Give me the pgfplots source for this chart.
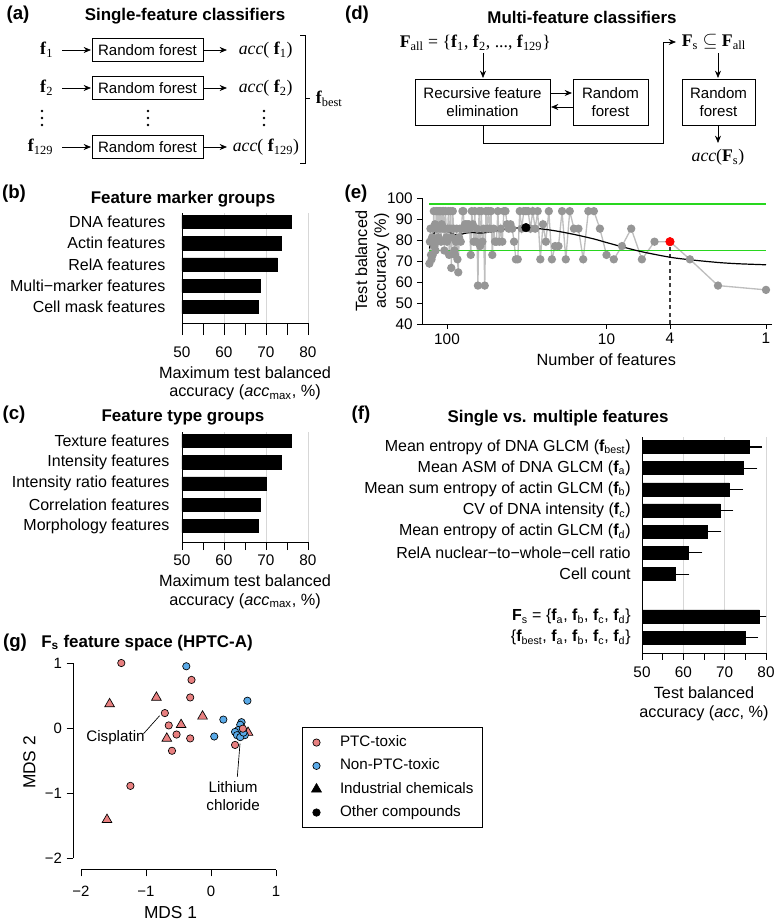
\documentclass[border=0pt]{standalone}
\usepackage{pgfplots}
\pgfplotsset{compat=1.18}
\usepackage{pgfplotstable}
\usepackage{fontspec}
\setmainfont{Liberation Sans}
\newfontfamily\serif{Liberation Serif}
\usetikzlibrary{arrows.meta}

\definecolor{ptcred}{RGB}{232,128,128}
\definecolor{ptcblue}{RGB}{90,170,232}
\definecolor{gridgray}{RGB}{215,215,215}
\definecolor{ptgray}{RGB}{150,150,150}
\definecolor{lngray}{RGB}{190,190,190}
\definecolor{lgreen}{RGB}{40,215,30}

\newcommand\ftick{\fontsize{11.5}{13.8}\selectfont}
\newcommand\fcat{\fontsize{12}{14.4}\selectfont}
\newcommand\flab{\fontsize{12.2}{14}\selectfont}
\newcommand\ftitle{\fontsize{12.7}{15}\selectfont\bfseries}
\newcommand\fpanel{\fontsize{14}{16}\selectfont\bfseries}
\newcommand\fdiag{\fontsize{11.3}{13.7}\selectfont}
\newcommand\fmath{\fontsize{13.3}{15}\selectfont\serif}
\newcommand\bff{\textbf{f}}

\pgfplotsset{
  /pgf/number format/assume math mode=true,
  barax/.style={scale only axis, anchor=south west, xmin=50, xmax=80,
    axis x line*=bottom, axis y line*=left, axis line style={line width=0.6pt,-},
    xtick={50,60,70,80}, minor xtick={55,65,75}, tick align=outside,
    major tick length=9pt, minor tick length=9pt,
    tick style={line width=0.6pt, black}, ytick style={draw=none},
    xmajorgrids, grid style={gridgray, line width=0.7pt},
    xbar, bar width=0.62,
    xticklabel style={font=\ftick, yshift=-5pt},
    yticklabel style={font=\fcat},
    label style={font=\flab}, xlabel style={align=center}}
}

\pgfplotstableread{
n acc
129 68.75
128 79.2
127 85.4
126 72.9
125 70.8
124 81.25
123 72.9
122 85.4
121 93.75
120 77.1
119 87.5
118 75
117 93.75
116 85.4
115 79.2
114 93.75
113 81.25
112 93.75
111 85.4
110 93.75
109 79.2
108 87.5
107 93.75
106 85.4
105 93.75
104 75
103 85.4
102 93.75
101 81.25
100 79.2
99 85.4
98 93.75
97 72.9
96 85.4
95 93.75
94 66.7
93 81.25
92 93.75
91 85.4
90 75
89 72.9
88 79.2
87 85.4
86 70.8
85 64.6
84 81.25
83 85.4
82 79.2
81 85.4
80 93.75
79 93.75
78 85.4
77 87.5
76 85.4
75 87.5
74 85.4
73 87.5
72 85.4
71 72.9
70 93.75
69 87.5
68 79.2
67 93.75
66 79.2
65 85.4
64 58.3
63 93.75
62 77.1
61 93.75
60 79.2
59 85.4
58 58.3
57 93.75
56 85.4
55 93.75
54 85.4
53 93.75
52 72.9
51 85.4
50 79.2
49 79.2
48 93.75
47 79.2
46 85.4
45 79.2
44 93.75
43 93.75
42 87.5
41 85.4
40 87.5
39 85.4
38 79.2
37 70.8
36 70.8
35 93.75
34 85.4
33 93.75
32 93.75
31 93.75
30 85.4
29 93.75
28 85.4
27 93.75
26 70.8
25 87.5
24 79.2
23 93.75
22 70.8
21 77.1
20 77.1
19 93.75
18 70.8
17 93.75
16 85.4
15 85.4
14 70.8
13 93.75
12 93.75
11 85.4
10 72.9
9 70.8
8 77.1
7 85.4
6 70.8
5 79.2
4 79.2
3 70.8
2 58.3
1 56.25
}\datae

\pgfplotstableread{
n acc
129 76
124 80.5
118 84.8
111 86.3
104 85.6
97 83.8
90 82.6
84 82.5
77 83.2
70 83.6
62 83.3
55 83.7
48 84.5
40 85.4
32 85.9
25 85.2
20 84.1
15.4 82.4
12 80.5
10 78.8
8 76.8
6 74.4
4 71.8
3 70.6
2 69.3
1.5 68.7
1 68.2
}\fite

\pgfplotstableread{
pos val err
10 76.0 1.8
9 74.4 2.2
8 71.1 2.1
7 68.9 1.9
6 65.7 2.2
5 61.1 2.2
4 58.0 2.2
2 78.4 1.7
1 75.0 1.8
}\dataf

\begin{document}
\begin{tikzpicture}
\useasboundingbox (0,0) rectangle (582.75pt,-690.75pt);
\begin{scope}[x=0.75pt,y=-0.75pt, >={Stealth[length=5.5pt,width=4.5pt]}, line width=0.6pt]
% ---------- (a)
\node[font=\fpanel] at (18,15) {(a)};
\node[font=\ftitle] at (185,16) {Single-feature classifiers};
\foreach \yy/\lab in {50/1, 88/2, 147/129} {
  \node[font=\fmath, anchor=east] at (58,\yy) {\bff\textsubscript{\lab}};
  \draw[->] (62,\yy) -- (91,\yy);
  \draw (92,{\yy-11.5}) rectangle (203,{\yy+11.5});
  \node[font=\fdiag] at (147.5,\yy) {Random forest};
  \draw[->] (204,\yy) -- (227,\yy);
}
\node[font=\fmath, anchor=west] at (234,50) {\textit{acc}( \bff\textsubscript{1})};
\node[font=\fmath, anchor=west] at (234,88) {\textit{acc}( \bff\textsubscript{2})};
\node[font=\fmath, anchor=west] at (228,147) {\textit{acc}( \bff\textsubscript{129})};
\foreach \xx in {42,148,264} {
  \foreach \dy in {111,118,125} { \fill (\xx,\dy) circle[radius=1.3]; }
}
\draw (300,35) -- (305,35) -- (305,163) -- (300,163);
\draw (305,98) -- (310,98);
\node[font=\fmath, anchor=west] at (311,99) {\bff\textsubscript{best}};
% ---------- (d)
\node[font=\fpanel] at (357,15) {(d)};
\node[font=\ftitle] at (582,17) {Multi-feature classifiers};
\node[font=\fmath, anchor=west] at (395,43) {\textbf{F}\textsubscript{all} = \{\bff\textsubscript{1}, \bff\textsubscript{2}, ..., \bff\textsubscript{129}\}};
\draw[->] (483,53) -- (483,78);
\draw (415,79) rectangle (550,125);
\node[font=\fdiag, align=center] at (482.5,102) {Recursive feature\\elimination};
\draw (573,79) rectangle (648,125);
\node[font=\fdiag, align=center] at (610.5,102) {Random\\forest};
\draw[->] (550,93) -- (572,93);
\draw[->] (573,107) -- (551,107);
\draw[->] (483,125) -- (483,143) -- (663,143) -- (663,42) -- (676,42);
\node[font=\fmath, anchor=west] at (677,42) {\textbf{F}\textsubscript{s} $\subseteq$ \textbf{F}\textsubscript{all}};
\draw[->] (718,53) -- (718,78);
\draw (682,79) rectangle (755,125);
\node[font=\fdiag, align=center] at (718.5,102) {Random\\forest};
\draw[->] (718,125) -- (718,143);
\node[font=\fmath] at (718,157) {\textit{acc}(\textbf{F}\textsubscript{s})};
% ---------- panel labels and titles
\node[font=\fpanel] at (14,194) {(b)};
\node[font=\ftitle] at (183,199) {Feature marker groups};
\node[font=\fpanel] at (14,415) {(c)};
\node[font=\ftitle] at (183,417) {Feature type groups};
\node[font=\fpanel] at (356,194) {(e)};
\node[font=\fpanel] at (361,415) {(f)};
\node[font=\ftitle] at (558,418) {Single vs. multiple features};
\node[font=\fpanel] at (15,643) {(g)};
\node[font=\ftitle] at (147,643) {F\textsubscript{s} feature space (HPTC-A)};
\end{scope}

% ---------- (b)
\begin{axis}[barax, at={(136.5pt,-242.25pt)}, width=94.5pt, height=82.5pt,
  ymin=0.247, ymax=5.42, ytick={1,2,3,4,5},
  yticklabels={Cell mask features, Multi−marker features, RelA features, Actin features, DNA features},
  xlabel={Maximum test balanced\\accuracy (\textit{acc}\textsubscript{max}, \%)}]
\addplot[fill=black, draw=black] coordinates {(68.2,1) (68.6,2) (72.7,3) (73.7,4) (76,5)};
\end{axis}

% ---------- (c)
\begin{axis}[barax, at={(136.5pt,-406.5pt)}, width=94.5pt, height=82.5pt,
  major tick length=6pt, minor tick length=6pt, xticklabel style={yshift=5pt},
  ymin=0.247, ymax=5.42, ytick={1,2,3,4,5},
  yticklabels={Morphology features, Correlation features, Intensity ratio features, Intensity features, Texture features},
  xlabel={Maximum test balanced\\accuracy (\textit{acc}\textsubscript{max}, \%)}]
\addplot[fill=black, draw=black] coordinates {(68.2,1) (68.6,2) (70,3) (73.7,4) (76,5)};
\end{axis}

% ---------- (e)
\begin{axis}[scale only axis, anchor=south west, at={(316.5pt,-243pt)}, width=262.5pt, height=94.5pt,
  xmode=log, x dir=reverse, xmin=0.917, xmax=143.5, ymin=40, ymax=100,
  axis x line*=bottom, axis y line*=left, axis line style={line width=0.6pt,-},
  xtick={1,4,10,100}, xticklabels={1,4,10,100}, minor x tick num=0,
  ytick={40,50,60,70,80,90,100},
  tick align=outside, major tick length=3.5pt, tick style={line width=0.6pt, black},
  tick label style={font=\ftick}, label style={font=\flab},
  xlabel={Number of features}, xlabel style={xshift=7pt},
  ylabel={Test balanced\\accuracy (\%)}, ylabel style={align=center, yshift=-8.5pt}]
\addplot[lngray, line width=1pt, mark=*, mark size=2.6pt, mark options={fill=ptgray, draw=ptgray}] table[x=n, y=acc] {\datae};
\addplot[lgreen, line width=1.1pt] coordinates {(129,97.2) (1,97.2)};
\addplot[lgreen, line width=1.1pt] coordinates {(129,75) (1,75)};
\addplot[black!75, line width=0.9pt, dash pattern=on 3pt off 2.5pt] coordinates {(4,40) (4,79.2)};
\addplot[black, line width=0.9pt, smooth] table[x=n, y=acc] {\fite};
\addplot[only marks, mark=*, mark size=3.2pt, black] coordinates {(32,85.9)};
\addplot[only marks, mark=*, mark size=3.2pt, red, mark options={fill=red, draw=red}] coordinates {(4,79.2)};
\end{axis}

% ---------- (f)
\begin{axis}[barax, at={(481.5pt,-489.75pt)}, width=93pt, height=162pt,
  major tick length=5pt, minor tick length=5pt, xticklabel style={yshift=3pt},
  ymin=0.28, ymax=10.47, ytick={1,2,4,5,6,7,8,9,10},
  yticklabels={{\{\bff\textsubscript{best}, \bff\textsubscript{a}, \bff\textsubscript{b}, \bff\textsubscript{c}, \bff\textsubscript{d}\}},
    {\textbf{F}\textsubscript{s} = \{\bff\textsubscript{a}, \bff\textsubscript{b}, \bff\textsubscript{c}, \bff\textsubscript{d}\}},
    {Cell count}, {RelA nuclear−to−whole−cell ratio},
    {Mean entropy of actin GLCM (\bff\textsubscript{d})},
    {CV of DNA intensity (\bff\textsubscript{c})},
    {Mean sum entropy of actin GLCM (\bff\textsubscript{b})},
    {Mean ASM of DNA GLCM (\bff\textsubscript{a})},
    {Mean entropy of DNA GLCM (\bff\textsubscript{best})}},
  xlabel={Test balanced\\accuracy (\textit{acc}, \%)}]
\addplot[fill=black, draw=black, error bars/.cd, x dir=plus, x explicit,
  error bar style={line width=0.8pt, black}, error mark options={line width=0.8pt, black, mark size=4pt}]
  table[x=val, y=pos, x error=err] {\dataf};
\end{axis}

% ---------- (g)
\begin{axis}[scale only axis, anchor=south west, at={(54.9pt,-652.3pt)}, width=157.95pt, height=160.9pt,
  xmin=-2.12, xmax=1.12, ymin=-2.18, ymax=1.12, clip=false,
  axis line style={draw=none}, tick pos=left, tick align=outside, major tick length=5pt,
  tick style={line width=0.6pt, black},
  xtick={-2,-1,0,1}, xticklabels={−2,−1,0,1}, ytick={-2,-1,0,1}, yticklabels={−2,−1,0,1},
  tick label style={font=\fontsize{11.2}{13}\selectfont},
  xticklabel style={yshift=-4pt},
  label style={font=\fontsize{13}{15}\selectfont},
  xlabel={MDS 1}, ylabel={MDS 2}, xlabel style={xshift=-6pt},
  legend style={at={(1.086,0.665)}, anchor=north west, draw=black, line width=0.6pt,
    font=\fontsize{11.4}{13.7}\selectfont, inner xsep=7pt, inner ysep=5.8pt, row sep=6.5pt,
    nodes={inner sep=0pt, text height=8.5pt, text depth=2.5pt},
    /tikz/every odd column/.append style={column sep=14pt}},
  legend cell align=left,
  legend image code/.code={\draw[#1] plot coordinates {(0pt,0pt)};}]
\draw[line width=0.6pt] (axis cs:-2,-2.18) -- (axis cs:1,-2.18);
\draw[line width=0.6pt] (axis cs:-2.12,-2) -- (axis cs:-2.12,1);
\addplot[forget plot, only marks, mark=triangle*, mark size=4.2pt, mark options={fill=ptcred, draw=black, line width=0.5pt}]
  coordinates {(0.57,-0.07) (-1.56,0.37) (-0.84,0.47) (-0.13,0.18) (-0.46,0.05) (-0.68,-0.16) (-1.60,-1.41)};
\addplot[forget plot, only marks, mark=*, mark size=2.75pt, mark options={fill=ptcred, draw=black, line width=0.5pt}]
  coordinates {(-1.38,1.0) (-0.30,0.74) (-0.32,0.47) (-0.71,0.23) (-0.65,0.04) (-0.53,-0.10) (-0.32,-0.16) (-0.60,-0.35) (-1.24,-0.89) (0.37,-0.26)};
\addplot[forget plot, only marks, mark=*, mark size=2.75pt, mark options={fill=ptcblue, draw=black, line width=0.5pt}]
  coordinates {(-0.38,0.95) (0.56,0.42) (0.19,0.13) (0.05,-0.13) (0.47,0.09) (0.45,0.05) (0.42,-0.03) (0.37,-0.06) (0.40,-0.11) (0.52,-0.11) (0.45,-0.14) (0.50,-0.07)};
\addplot[forget plot, only marks, mark=*, mark size=2.75pt, mark options={fill=ptcred, draw=black, line width=0.5pt}]
  coordinates {(0.49,-0.01)};
\draw[line width=0.5pt] (axis cs:-1.04,-0.09) -- (axis cs:-0.79,0.19);
\node[font=\fontsize{11.4}{13.7}\selectfont] at (axis cs:-1.47,-0.15) {Cisplatin};
\draw[line width=0.5pt] (axis cs:0.405,-0.75) -- (axis cs:0.446,-0.24);
\node[font=\fontsize{11.4}{13.7}\selectfont, align=center] at (axis cs:0.34,-1.05) {Lithium\\chloride};
\addlegendimage{only marks, mark=*, mark size=2.75pt, mark options={fill=ptcred, draw=black, line width=0.5pt}}
\addlegendentry{PTC-toxic}
\addlegendimage{only marks, mark=*, mark size=2.75pt, mark options={fill=ptcblue, draw=black, line width=0.5pt}}
\addlegendentry{Non-PTC-toxic}
\addlegendimage{only marks, mark=triangle*, mark size=4.2pt, mark options={fill=black, draw=black}}
\addlegendentry{Industrial chemicals}
\addlegendimage{only marks, mark=*, mark size=2.75pt, mark options={fill=black, draw=black}}
\addlegendentry{Other compounds}
\end{axis}
\end{tikzpicture}
\end{document}
